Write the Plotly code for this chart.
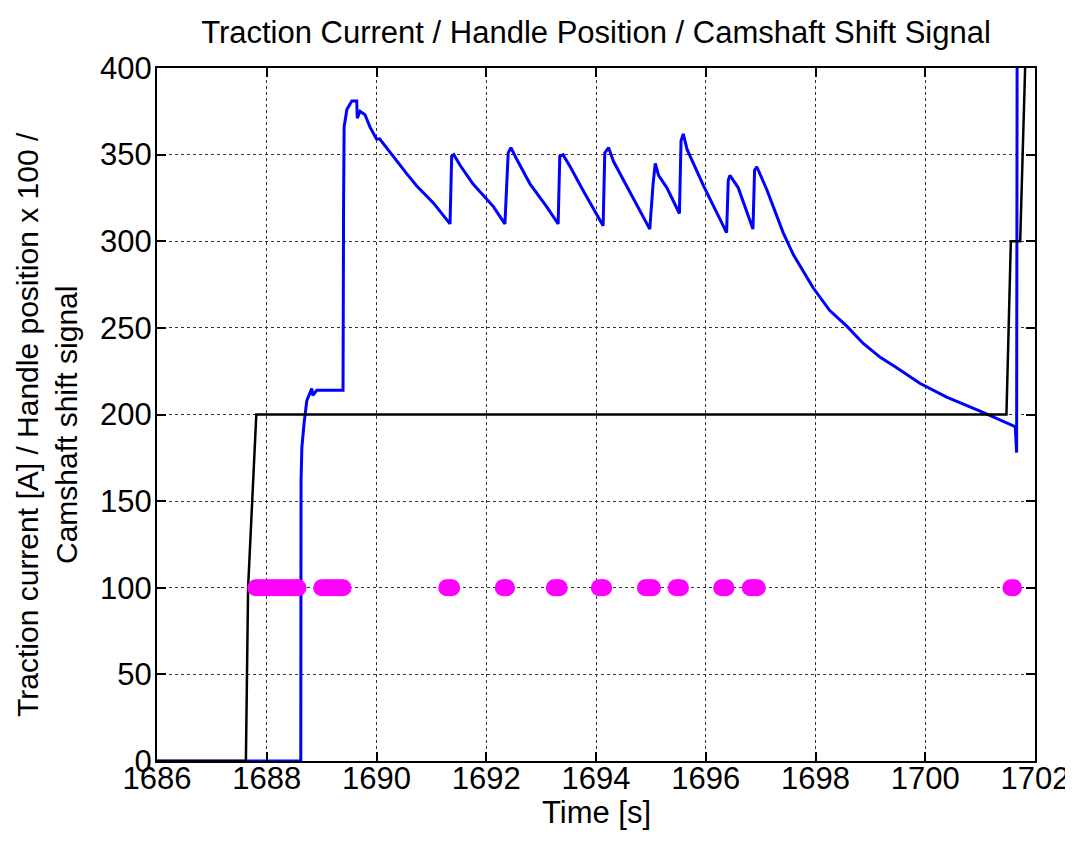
import plotly.graph_objects as go

# Traction current [A]
current_t = [1686.00, 1688.620, 1688.625, 1688.64, 1688.68, 1688.70, 1688.73, 1688.82, 1688.84, 1688.91,
             1689.39, 1689.40, 1689.41, 1689.46, 1689.55, 1689.64, 1689.65, 1689.70, 1689.79, 1689.88,
             1690.00, 1690.06, 1690.25, 1690.37, 1690.55, 1690.73, 1691.04, 1691.34,
             1691.37, 1691.41, 1691.52, 1691.76, 1692.13, 1692.34,
             1692.40, 1692.45, 1692.56, 1692.80, 1693.10, 1693.31,
             1693.34, 1693.40, 1693.53, 1693.77, 1693.95, 1694.13,
             1694.16, 1694.23, 1694.32, 1694.62, 1694.98,
             1695.04, 1695.08, 1695.14, 1695.29, 1695.52,
             1695.55, 1695.59, 1695.66, 1695.96, 1696.38,
             1696.41, 1696.44, 1696.59, 1696.86,
             1696.89, 1696.93, 1697.11, 1697.41, 1697.60, 1697.96, 1698.26, 1698.57, 1698.87,
             1699.18, 1699.48, 1699.90, 1700.39, 1701.00, 1701.64, 1701.665, 1701.675]
current_v = [0, 0, 162, 181, 195, 201, 208, 215, 211, 214,
             214, 322, 366, 376, 381, 381, 371, 375, 373, 366,
             359, 359, 351, 346, 339, 332, 322, 310,
             349, 350, 344, 333, 320, 310,
             351, 354, 347, 333, 320, 310,
             349, 350, 343, 329, 319, 309,
             351, 354, 346, 328, 307,
             333, 345, 338, 331, 316,
             358, 362, 353, 332, 305,
             335, 338, 331, 307,
             341, 343, 330, 305, 292, 273, 260, 251, 241,
             233, 227, 218, 210, 202, 193, 178, 430]

# Handle position x 100
handle_t = [1686.00, 1687.62, 1687.66, 1687.81, 1701.48, 1701.56, 1701.73, 1701.82]
handle_v = [0, 0, 100, 200, 200, 300, 300, 400]

# Camshaft shift signal (samples where the signal is active)
cam_t = [1687.80, 1687.85, 1687.90, 1687.95, 1688.00, 1688.05, 1688.10, 1688.15, 1688.20,
         1688.25, 1688.30, 1688.35, 1688.40, 1688.45, 1688.50, 1688.55, 1688.57,
         1689.00, 1689.05, 1689.10, 1689.15, 1689.20, 1689.25, 1689.30, 1689.35, 1689.39,
         1691.28, 1691.33, 1691.37,
         1692.31, 1692.34, 1692.37,
         1693.24, 1693.29, 1693.33,
         1694.06, 1694.10, 1694.14,
         1694.90, 1694.95, 1695.00, 1695.03,
         1695.46, 1695.50, 1695.54,
         1696.29, 1696.33, 1696.37,
         1696.81, 1696.85, 1696.90, 1696.94,
         1701.56, 1701.61]
cam_level = 100
cam_v = [cam_level for _ in cam_t]

x_ticks = [1686, 1688, 1690, 1692, 1694, 1696, 1698, 1700, 1702]
y_ticks = [0, 50, 100, 150, 200, 250, 300, 350, 400]

# page places the figure 8px from the top-left corner
W, H = 1065, 844
ML, MT = 149, 60
PW, PH = 878, 693
MR, MB = W - ML - PW, H - MT - PH

FONT = "Liberation Sans, Arial, Helvetica, sans-serif"

fig = go.Figure()
fig.add_trace(go.Scatter(x=current_t, y=current_v, mode="lines",
                         line=dict(color="#0000FF", width=3), name="Traction current"))
fig.add_trace(go.Scatter(x=handle_t, y=handle_v, mode="lines",
                         line=dict(color="#000000", width=2.5), name="Handle position x 100"))
fig.add_trace(go.Scatter(x=cam_t, y=cam_v, mode="markers",
                         marker=dict(color="#FF00FF", size=17, line=dict(width=0)),
                         name="Camshaft shift signal"))

axis_common = dict(showgrid=True, gridcolor="#333333", griddash="dot", gridwidth=1,
                   showline=True, linecolor="black", linewidth=2, mirror="allticks",
                   ticks="inside", ticklen=9, tickwidth=1.5, tickcolor="black",
                   zeroline=False, tickfont=dict(family=FONT, size=31, color="black"))

fig.update_layout(
    width=W, height=H,
    margin=dict(l=ML, r=MR, t=MT, b=MB, autoexpand=False),
    paper_bgcolor="white", plot_bgcolor="white",
    showlegend=False,
    title=dict(text="Traction Current / Handle Position / Camshaft Shift Signal",
               x=(ML + PW / 2) / W, xanchor="center", y=1 - 24 / H, yanchor="middle",
               font=dict(family=FONT, size=31, color="black")),
    xaxis=dict(range=[1686, 1702], tickvals=x_ticks, ticktext=[str(v) for v in x_ticks],
               ticklabelstandoff=-11, **axis_common),
    yaxis=dict(range=[0, 400], tickvals=y_ticks, ticktext=[str(v) for v in y_ticks],
               ticklabelstandoff=-3, **axis_common),
)

# x-axis title (centre at 804px of the figure)
fig.add_annotation(text="Time [s]", xref="paper", yref="paper", x=0.5, y=-(804 - MT - PH) / PH,
                   xanchor="center", yanchor="middle", showarrow=False,
                   font=dict(family=FONT, size=31, color="black"))

# y-axis title as rotated two-line annotation
fig.add_annotation(text="Traction current [A] / Handle position x 100 /<br>Camshaft shift signal",
                   xref="paper", yref="paper", x=(47 - 8 - ML) / PW, y=0.485,
                   xanchor="center", yanchor="middle", textangle=-90, showarrow=False,
                   font=dict(family=FONT, size=30, color="black"))

fig.write_html("out.html")
